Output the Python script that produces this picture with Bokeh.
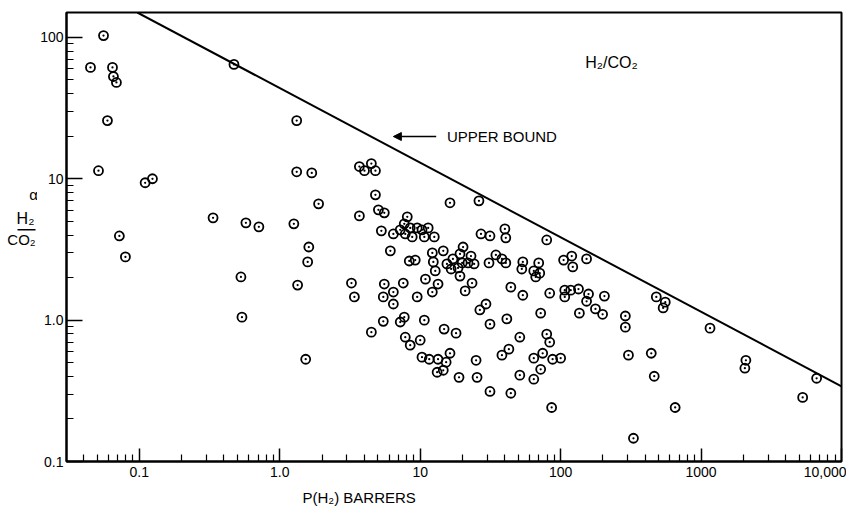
from bokeh.plotting import figure
from bokeh.models import ColumnDataSource, FixedTicker, Label, Arrow, NormalHead, Title, Range1d
from bokeh.layouts import row
from bokeh.embed import file_html
from bokeh.resources import INLINE

# ---- data ----
P_H2 = [0.0556, 0.0449, 0.0644, 0.0654, 0.0687, 0.0593, 0.0512, 0.110, 0.124, 0.0721,
        0.0796, 0.472, 1.32, 1.32, 0.335, 0.574, 0.710, 1.26, 0.529, 0.538,
        1.34, 1.69, 1.89, 1.61, 1.58, 1.53,
        3.69, 4.01, 4.49, 4.80, 4.80, 3.69, 5.04, 5.55, 5.29, 8.09,
        7.70, 7.21, 8.49, 7.83, 6.44, 8.77, 9.52, 10.3, 11.4, 10.7,
        12.6, 6.13, 8.36, 9.22, 12.2, 12.4, 12.8, 14.6, 20.2, 19.2,
        23.0, 17.1, 15.5, 16.6, 18.6, 19.9, 21.9, 24.2, 19.2, 16.3,
        26.2, 27.1, 31.4, 40.1, 40.7, 79.6, 30.9, 34.6, 38.2, 40.7,
        53.8, 52.9, 69.8, 64.4, 71.0, 66.5, 105, 120, 122, 3.24,
        3.40, 5.55, 7.58, 6.44, 5.46, 10.9, 13.4, 9.52, 12.2, 23.4,
        20.9, 44.2, 53.8, 83.6, 107, 118, 134, 107, 6.44, 5.46,
        4.49, 7.21, 7.70, 10.7, 7.83, 8.49, 10.0, 14.8, 18.0, 10.3,
        11.6, 13.4, 15.3, 16.3, 13.2, 14.6, 18.9, 25.0, 25.4, 31.4,
        26.6, 29.4, 31.4, 41.4, 38.2, 42.8, 44.2, 51.2, 51.2, 64.4,
        64.4, 72.1, 74.5, 72.1, 79.6, 83.6, 87.7, 100, 86.3, 136,
        153, 153, 158, 177, 199, 205, 289, 289, 304, 330,
        480, 556, 537, 442, 464, 654, 1158, 2085, 2051, 5290, 6650]
ALPHA = [103, 61.3, 61.3, 52.9, 48.0, 25.8, 11.4, 9.37, 10.0, 3.94,
         2.80, 64.4, 25.8, 11.2, 5.29, 4.88, 4.57, 4.80, 2.02, 1.05,
         1.77, 11.0, 6.65, 3.29, 2.58, 0.529,
         12.2, 11.4, 12.8, 11.4, 7.70, 5.46, 6.03, 5.74, 4.28, 5.38,
         4.80, 4.35, 4.49, 4.07, 4.07, 3.88, 4.49, 4.35, 4.49, 3.88,
         3.88, 3.09, 2.62, 2.66, 2.99, 2.58, 2.23, 3.09, 3.29, 2.94,
         2.84, 2.71, 2.50, 2.30, 2.34, 2.54, 2.54, 2.50, 2.05, 6.76,
         6.98, 4.07, 3.94, 4.42, 3.82, 3.69, 2.54, 2.89, 2.71, 2.54,
         2.58, 2.30, 2.54, 2.23, 2.15, 2.02, 2.66, 2.84, 2.38, 1.83,
         1.46, 1.80, 1.83, 1.58, 1.46, 1.95, 1.80, 1.46, 1.58, 1.83,
         1.61, 1.71, 1.50, 1.55, 1.63, 1.63, 1.66, 1.46, 1.30, 0.98,
         0.822, 0.97, 1.05, 1.00, 0.757, 0.665, 0.721, 0.864, 0.809, 0.547,
         0.529, 0.529, 0.504, 0.583, 0.428, 0.442, 0.394, 0.520, 0.394, 0.313,
         1.18, 1.30, 0.937, 1.02, 0.565, 0.623, 0.304, 0.757, 0.408, 0.538,
         0.382, 1.12, 0.583, 0.449, 0.796, 0.698, 0.529, 0.538, 0.241, 1.12,
         2.71, 1.36, 1.53, 1.20, 1.10, 1.48, 1.07, 0.892, 0.565, 0.146,
         1.46, 1.34, 1.22, 0.583, 0.401, 0.241, 0.877, 0.520, 0.457, 0.284, 0.388]

BOUND_P = [0.0968, 10000]
BOUND_ALPHA = [150, 0.34]

X_TICKS = [0.1, 1, 10, 100, 1000, 10000]
X_LABELS = ["0.1", "1.0", "10", "100", "1000", "10,000"]
Y_TICKS = [0.1, 1, 10, 100]
Y_LABELS = ["0.1", "1.0", "10", "100"]

FONT = "Liberation Sans"
H = 516
LEFT_W = 37

# ---- main plot ----
p = figure(width=846 - LEFT_W, height=H, x_axis_type="log", y_axis_type="log",
           x_range=(0.0303, 10000), y_range=(0.1, 150),
           output_backend="svg", toolbar_location=None,
           min_border_left=64 - LEFT_W, min_border_right=5, min_border_top=12,
           min_border_bottom=H - 461)
p.grid.visible = False
p.outline_line_color = "black"
p.outline_line_width = 2
p.background_fill_color = "white"
p.border_fill_color = "white"

x_minor = [d * k for d in [0.01, 0.1, 1, 10, 100, 1000] for k in range(2, 10)]
y_minor = [d * k for d in [0.1, 1, 10, 100] for k in range(2, 10)]
p.xaxis.ticker = FixedTicker(ticks=X_TICKS, minor_ticks=x_minor)
p.yaxis.ticker = FixedTicker(ticks=Y_TICKS, minor_ticks=y_minor)
p.xaxis.major_label_overrides = {t: l for t, l in zip(X_TICKS, X_LABELS)}
p.yaxis.major_label_overrides = {t: l for t, l in zip(Y_TICKS, Y_LABELS)}

for ax, (mj, mn) in ((p.xaxis, (13, 7)), (p.yaxis, (16, 7))):
    ax.axis_line_width = 2
    ax.axis_line_color = "black"
    ax.major_tick_in = mj
    ax.major_tick_out = 0
    ax.minor_tick_in = mn
    ax.minor_tick_out = 0
    ax.major_tick_line_width = 1.5
    ax.minor_tick_line_width = 1.2
    ax.major_tick_line_color = "black"
    ax.minor_tick_line_color = "black"
    ax.major_label_text_font = FONT
    ax.major_label_text_font_size = "14px"
    ax.major_label_text_color = "black"
p.xaxis.major_label_standoff = 5
p.yaxis.major_label_standoff = 3

src = ColumnDataSource(dict(p=P_H2, a=ALPHA))
p.line(BOUND_P, BOUND_ALPHA, line_color="black", line_width=2)
p.scatter("p", "a", source=src, marker="circle_dot", size=9,
          line_color="black", line_width=1.8, fill_color=None)

p.add_layout(Label(x=230, y=66.5, text="H₂/CO₂", text_font=FONT, text_font_size="16px",
                   text_align="center", text_baseline="middle", text_color="black"))
p.add_layout(Label(x=15.5, y=19.9, text="UPPER BOUND", text_font=FONT, text_font_size="15px",
                   text_align="left", text_baseline="middle", text_color="black"))
p.add_layout(Arrow(end=NormalHead(size=8, fill_color="black", line_color="black"),
                   x_start=13.0, y_start=19.9, x_end=6.44, y_end=19.9,
                   line_color="black", line_width=1.5))

# x-axis label as a left-aligned title below the axis
p.add_layout(Title(text="P(H₂)  BARRERS", align="left", offset=236, standoff=15,
                   text_font=FONT, text_font_size="15px", text_font_style="normal",
                   text_color="black"), "below")

# ---- y-axis label panel (fraction), sharing the main plot's vertical scale ----
q = figure(width=LEFT_W, height=H, x_range=Range1d(0, LEFT_W), y_range=p.y_range,
           y_axis_type="log", output_backend="svg", toolbar_location=None,
           x_axis_location=None, y_axis_location=None, title=None,
           min_border_left=0, min_border_right=0, min_border_top=12,
           min_border_bottom=H - 461)
q.grid.visible = False
q.outline_line_color = None
q.background_fill_color = "white"
q.border_fill_color = "white"
q.add_layout(Label(x=33, y=7.7, text="α", text_font=FONT, text_font_size="15px",
                   text_align="center", text_baseline="middle", text_color="black"))
q.add_layout(Label(x=25, y=5.2, text="H₂", text_font=FONT, text_font_size="16px",
                   text_align="center", text_baseline="middle", text_color="black"))
q.segment(x0=[17], y0=[4.35], x1=[35], y1=[4.35], line_color="black", line_width=1.5)
q.add_layout(Label(x=21, y=3.69, text="CO₂", text_font=FONT, text_font_size="15px",
                   text_align="center", text_baseline="middle", text_color="black"))

layout = row(q, p, spacing=0)
open("out.html", "w").write(file_html(layout, INLINE))
